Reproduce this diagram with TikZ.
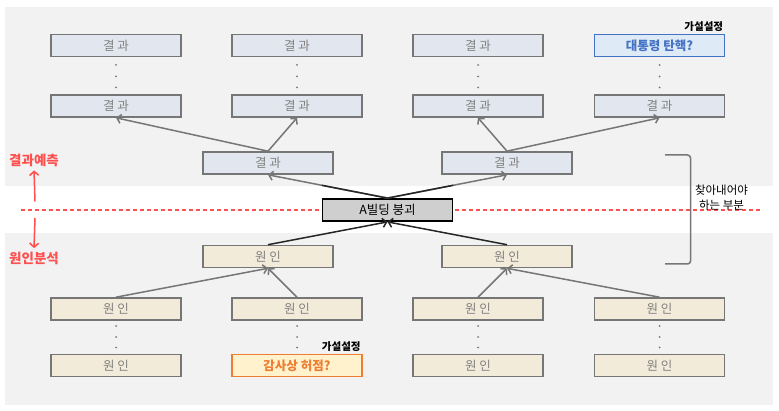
\documentclass[tikz,border=0pt]{standalone}
\usepackage{fontspec}
\setmainfont{Noto Sans CJK KR}
\usetikzlibrary{arrows.meta,calc}

\definecolor{panel}{HTML}{F2F2F2}
\definecolor{boxline}{HTML}{767676}
\definecolor{resfill}{HTML}{E2E6EE}
\definecolor{causefill}{HTML}{F3EBDA}
\definecolor{txtgray}{HTML}{808080}
\definecolor{hypblue}{HTML}{4472C4}
\definecolor{hypbluefill}{HTML}{DEEAF6}
\definecolor{hyporange}{HTML}{ED7D31}
\definecolor{hyporangefill}{HTML}{FFF2CC}
\definecolor{markred}{HTML}{FF5050}

\tikzset{
  box/.style={draw=boxline, line width=1.6pt, minimum width=130pt, minimum height=22pt,
    inner sep=0pt, font=\fontsize{12.5}{14}\selectfont},
  result/.style={box, fill=resfill, text=txtgray},
  cause/.style={box, fill=causefill, text=txtgray},
  event/.style={box, draw=black, fill=boxline!35, text=black, line width=1.8pt},
  hypres/.style={box, draw=hypblue, fill=hypbluefill, text=hypblue, font=\fontsize{12.5}{14}\selectfont\bfseries},
  hypcause/.style={box, draw=hyporange, fill=hyporangefill, text=hyporange, font=\fontsize{12.5}{14}\selectfont\bfseries},
  hyplabel/.style={anchor=south east, inner sep=2pt, font=\fontsize{10.5}{12}\selectfont\bfseries},
  link/.style={draw=boxline, line width=1.5pt, -{Straight Barb[length=4pt,width=9pt]}},
  strong/.style={draw=black!85, line width=1.5pt},
  redarrow/.style={draw=markred, line width=1.5pt, -{Straight Barb[length=4pt,width=9pt]}},
  side/.style={text=markred, font=\fontsize{13.5}{15}\selectfont\bfseries},
}

\begin{document}
\begin{tikzpicture}[x=1pt,y=-1pt]
  \useasboundingbox (0,0) rectangle (779,411);
  % panels
  \fill[panel] (5,7) rectangle (773,186);
  \fill[panel] (5,233) rectangle (773,405);
  % border between prediction and analysis
  \draw[markred, line width=1.2pt, dash pattern=on 4pt off 3pt] (21,210) -- (760,210);

  % results
  \node[result] (top1) at (116,45.5) {결 과};
  \node[result] (top2) at (297,45.5) {결 과};
  \node[result] (top3) at (478,45.5) {결 과};
  \node[hypres] (top4) at (659.5,45.5) {대통령 탄핵?};
  \node[result] (res1) at (116,106) {결 과};
  \node[result] (res2) at (297,106) {결 과};
  \node[result] (res3) at (478,106) {결 과};
  \node[result] (res4) at (659.5,106) {결 과};
  \node[result] (mres1) at (268,163) {결 과};
  \node[result] (mres2) at (507,163) {결 과};

  \node[event] (fall) at (387.5,210) {A빌딩 붕괴};

  % causes
  \node[cause] (mcau1) at (268,256.5) {원 인};
  \node[cause] (mcau2) at (507,256.5) {원 인};
  \node[cause] (cau1) at (116,309) {원 인};
  \node[cause] (cau2) at (297,309) {원 인};
  \node[cause] (cau3) at (478,309) {원 인};
  \node[cause] (cau4) at (659.5,309) {원 인};
  \node[cause] (bot1) at (116,365.5) {원 인};
  \node[hypcause] (bot2) at (297,365.5) {감사상 허점?};
  \node[cause] (bot3) at (478,365.5) {원 인};
  \node[cause] (bot4) at (659.5,365.5) {원 인};

  \node[hyplabel] (hyp1) at (top4.north east) {가설설정};
  \node[hyplabel] (hyp2) at (bot2.north east) {가설설정};

  % dots
  \foreach \x in {116,297,478,659.5}
    \foreach \y in {65,76.5,87.5,326,337,347.5}
      \fill[boxline] (\x,\y) circle (1pt);

  % links
  \foreach \a/\b in {mres1/res1, mres1/res2, mres2/res3, mres2/res4,
                     cau1/mcau1, cau2/mcau1, cau3/mcau2, cau4/mcau2}
    \draw[link] (\a.north) -- (\b.south);
  \foreach \b in {mres1, mres2} {
    \draw[link] (fall.north) -- (\b.south);
    \draw[strong] (fall.north) -- ($(fall.north)!0.55!(\b.south)$);
  }
  \foreach \a in {mcau1, mcau2}
    \draw[link, strong] (\a.north) -- (fall.south);

  % side labels
  \node[side] (predict) at (34,160.5) {결과예측};
  \node[side] (analyse) at (34,258) {원인분석};
  \coordinate (upfrom) at (35,201.5);
  \coordinate (downfrom) at (35,218);
  \draw[redarrow] (upfrom) -- (predict.south);
  \draw[redarrow] (downfrom) -- (analyse.north);

  % part to find
  \draw[boxline, line width=1.5pt, rounded corners=3pt] (665,155) -- (690.5,155) -- (690.5,264) -- (665,264);
  \node[align=center, font=\fontsize{11.5}{14.5}\selectfont, inner sep=0pt] (find) at (721.5,197.5) {찾아내어야\\하는 부분};
\end{tikzpicture}
\end{document}
